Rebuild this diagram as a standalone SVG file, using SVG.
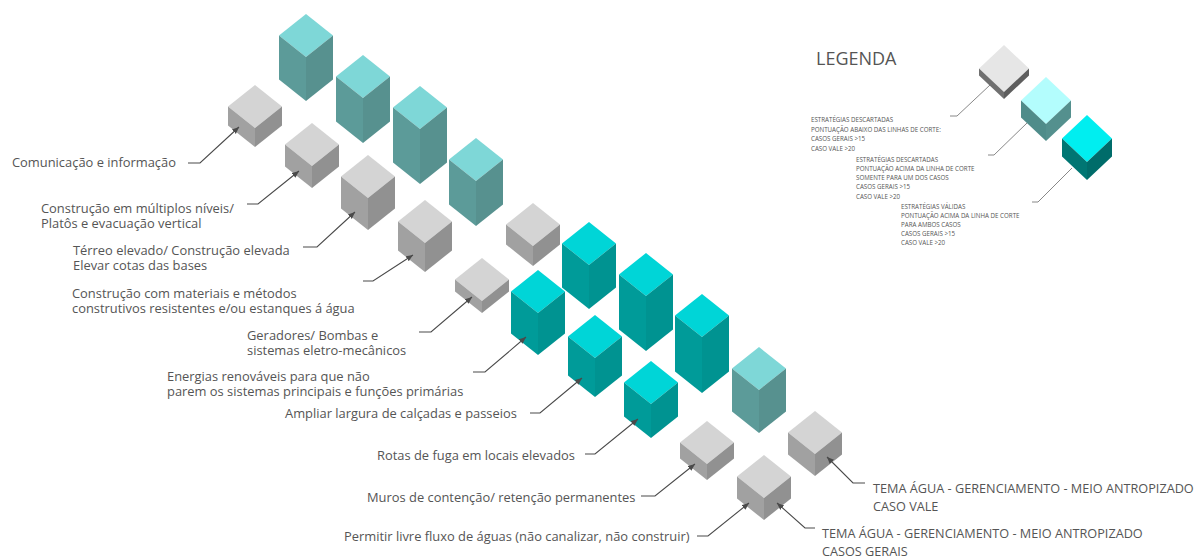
<svg xmlns="http://www.w3.org/2000/svg" width="1203" height="559" viewBox="0 0 1203 559">
  <defs>
    <style>
      .lbl { font-family: "Open Sans", "Liberation Sans", sans-serif; font-size: 12.9px; fill: #555555; }
      .cap { font-family: "Open Sans", "Liberation Sans", sans-serif; font-size: 12.7px; fill: #555555; }
      .leg { font-family: "Open Sans", "Liberation Sans", sans-serif; font-size: 6.2px; fill: #555555; }
      .title { font-family: "Open Sans", "Liberation Sans", sans-serif; font-size: 18px; fill: #555555; }
      .conn { fill: none; stroke: #4a4a4a; stroke-width: 1.1; marker-end: url(#arrow); }
      .lconn { fill: none; stroke: #6a6a6a; stroke-width: 0.8; }
      /* muted teal */
      .mt .t { fill: #7ed7d7; } .mt .l { fill: #5c9b99; } .mt .r { fill: #57918f; }
      /* bright teal */
      .bt .t { fill: #00d5d7; } .bt .l { fill: #009b99; } .bt .r { fill: #009391; }
      /* grey */
      .gr .t { fill: #d4d4d4; } .gr .l { fill: #a1a1a1; } .gr .r { fill: #919191; }
      /* legend cubes */
      .lg1 .t { fill: #e6e6e6; } .lg1 .l { fill: #707070; } .lg1 .r { fill: #5e5e5e; }
      .lg2 .t { fill: #b3fdfd; } .lg2 .l { fill: #4f8c8a; } .lg2 .r { fill: #54908e; }
      .lg3 .t { fill: #00eef0; } .lg3 .l { fill: #007673; } .lg3 .r { fill: #006c6a; }
    </style>
    <marker id="arrow" markerUnits="userSpaceOnUse" markerWidth="8" markerHeight="8" refX="7" refY="3" orient="auto">
      <path d="M0,0 L7,3 L0,6 Z" fill="#4a4a4a"/>
    </marker>
  </defs>

  <!-- upper row: caso vale -->
  <g id="u1" class="mt">
    <polygon class="t" points="306,14 333,35.5 306,57 279,35.5"/>
    <polygon class="l" points="279,35.5 306,57 306,101 279,79.5"/>
    <polygon class="r" points="306,57 333,35.5 333,79.5 306,101"/>
  </g>
  <g id="u2" class="mt">
    <polygon class="t" points="363,55 390,76.5 363,98 336,76.5"/>
    <polygon class="l" points="336,76.5 363,98 363,143 336,121.5"/>
    <polygon class="r" points="363,98 390,76.5 390,121.5 363,143"/>
  </g>
  <g id="u3" class="mt">
    <polygon class="t" points="420,86 447,107.5 420,129 393,107.5"/>
    <polygon class="l" points="393,107.5 420,129 420,184 393,162.5"/>
    <polygon class="r" points="420,129 447,107.5 447,162.5 420,184"/>
  </g>
  <g id="u4" class="mt">
    <polygon class="t" points="476,138 503,159.5 476,181 449,159.5"/>
    <polygon class="l" points="449,159.5 476,181 476,226 449,204.5"/>
    <polygon class="r" points="476,181 503,159.5 503,204.5 476,226"/>
  </g>
  <g id="u5" class="gr">
    <polygon class="t" points="533,203 560,224.5 533,246 506,224.5"/>
    <polygon class="l" points="506,224.5 533,246 533,266 506,244.5"/>
    <polygon class="r" points="533,246 560,224.5 560,244.5 533,266"/>
  </g>
  <g id="u6" class="bt">
    <polygon class="t" points="589,222 616,243.5 589,265 562,243.5"/>
    <polygon class="l" points="562,243.5 589,265 589,309 562,287.5"/>
    <polygon class="r" points="589,265 616,243.5 616,287.5 589,309"/>
  </g>
  <g id="u7" class="bt">
    <polygon class="t" points="646,253 673,274.5 646,296 619,274.5"/>
    <polygon class="l" points="619,274.5 646,296 646,351 619,329.5"/>
    <polygon class="r" points="646,296 673,274.5 673,329.5 646,351"/>
  </g>
  <g id="u8" class="bt">
    <polygon class="t" points="702,294 729,315.5 702,337 675,315.5"/>
    <polygon class="l" points="675,315.5 702,337 702,393 675,371.5"/>
    <polygon class="r" points="702,337 729,315.5 729,371.5 702,393"/>
  </g>
  <g id="u9" class="mt">
    <polygon class="t" points="759,347 786,368.5 759,390 732,368.5"/>
    <polygon class="l" points="732,368.5 759,390 759,433 732,411.5"/>
    <polygon class="r" points="759,390 786,368.5 786,411.5 759,433"/>
  </g>
  <g id="u10" class="gr">
    <polygon class="t" points="815,411 842,432.5 815,454 788,432.5"/>
    <polygon class="l" points="788,432.5 815,454 815,476 788,454.5"/>
    <polygon class="r" points="815,454 842,432.5 842,454.5 815,476"/>
  </g>

  <!-- lower row: casos gerais -->
  <g id="l1" class="gr">
    <polygon class="t" points="255,85 282,106.5 255,128 228,106.5"/>
    <polygon class="l" points="228,106.5 255,128 255,147 228,125.5"/>
    <polygon class="r" points="255,128 282,106.5 282,125.5 255,147"/>
  </g>
  <g id="l2" class="gr">
    <polygon class="t" points="312,123 339,144.5 312,166 285,144.5"/>
    <polygon class="l" points="285,144.5 312,166 312,188 285,166.5"/>
    <polygon class="r" points="312,166 339,144.5 339,166.5 312,188"/>
  </g>
  <g id="l3" class="gr">
    <polygon class="t" points="368,155 395,176.5 368,198 341,176.5"/>
    <polygon class="l" points="341,176.5 368,198 368,230 341,208.5"/>
    <polygon class="r" points="368,198 395,176.5 395,208.5 368,230"/>
  </g>
  <g id="l4" class="gr">
    <polygon class="t" points="425,200 452,221.5 425,243 398,221.5"/>
    <polygon class="l" points="398,221.5 425,243 425,272 398,250.5"/>
    <polygon class="r" points="425,243 452,221.5 452,250.5 425,272"/>
  </g>
  <g id="l5" class="gr">
    <polygon class="t" points="482,258 509,279.5 482,301 455,279.5"/>
    <polygon class="l" points="455,279.5 482,301 482,313 455,291.5"/>
    <polygon class="r" points="482,301 509,279.5 509,291.5 482,313"/>
  </g>
  <g id="l6" class="bt">
    <polygon class="t" points="538,270 565,291.5 538,313 511,291.5"/>
    <polygon class="l" points="511,291.5 538,313 538,355 511,333.5"/>
    <polygon class="r" points="538,313 565,291.5 565,333.5 538,355"/>
  </g>
  <g id="l7" class="bt">
    <polygon class="t" points="595,315 622,336.5 595,358 568,336.5"/>
    <polygon class="l" points="568,336.5 595,358 595,397 568,375.5"/>
    <polygon class="r" points="595,358 622,336.5 622,375.5 595,397"/>
  </g>
  <g id="l8" class="bt">
    <polygon class="t" points="651,361 678,382.5 651,404 624,382.5"/>
    <polygon class="l" points="624,382.5 651,404 651,438 624,416.5"/>
    <polygon class="r" points="651,404 678,382.5 678,416.5 651,438"/>
  </g>
  <g id="l9" class="gr">
    <polygon class="t" points="707,421 734,442.5 707,464 680,442.5"/>
    <polygon class="l" points="680,442.5 707,464 707,480 680,458.5"/>
    <polygon class="r" points="707,464 734,442.5 734,458.5 707,480"/>
  </g>
  <g id="l10" class="gr">
    <polygon class="t" points="764,455 791,476.5 764,498 737,476.5"/>
    <polygon class="l" points="737,476.5 764,498 764,520 737,498.5"/>
    <polygon class="r" points="764,498 791,476.5 791,498.5 764,520"/>
  </g>

  <!-- legend cubes -->
  <g id="leg-descartada" class="lg1">
    <polygon class="t" points="1004,45 1029,68.5 1004,92 979,68.5"/>
    <polygon class="l" points="979,68.5 1004,92 1004,99 979,75.5"/>
    <polygon class="r" points="1004,92 1029,68.5 1029,75.5 1004,99"/>
  </g>
  <g id="leg-um-caso" class="lg2">
    <polygon class="t" points="1046,77 1071,100.5 1046,124 1021,100.5"/>
    <polygon class="l" points="1021,100.5 1046,124 1046,141 1021,117.5"/>
    <polygon class="r" points="1046,124 1071,100.5 1071,117.5 1046,141"/>
  </g>
  <g id="leg-valida" class="lg3">
    <polygon class="t" points="1087,115 1112,138.5 1087,162 1062,138.5"/>
    <polygon class="l" points="1062,138.5 1087,162 1087,180 1062,156.5"/>
    <polygon class="r" points="1087,162 1112,138.5 1112,156.5 1087,180"/>
  </g>

  <!-- connectors -->
  <g id="connectors">
    <polyline class="conn" points="188,163 200,163 239,127"/>
    <polyline class="conn" points="247,204 258,204 299,171"/>
    <polyline class="conn" points="303,247 317,247 355,212"/>
    <polyline class="conn" points="363,281 373,281 413,255"/>
    <polyline class="conn" points="419,332 431,332 472,297"/>
    <polyline class="conn" points="473,372 485,372 526,337"/>
    <polyline class="conn" points="530,413 540,413 582,378"/>
    <polyline class="conn" points="585,454 595,454 638,419"/>
    <polyline class="conn" points="641,496 655,496 695,464"/>
    <polyline class="conn" points="697,536 708,536 749,503"/>
    <polyline class="conn" points="815,528 805,528 777,503"/>
    <polyline class="conn" points="865,483 853,483 827,457"/>
    <polyline class="lconn" points="950,116 957,116 990,85"/>
    <polyline class="lconn" points="988,155 994,155 1027,123"/>
    <polyline class="lconn" points="1032,202 1038,202 1072,168"/>
  </g>

  <!-- strategy labels -->
  <g id="labels">
    <text class="lbl" x="12" y="167">Comunicação e informação</text>
    <text class="lbl" x="41" y="212.5">Construção em múltiplos níveis/<tspan x="41" dy="15.5">Platôs e evacuação vertical</tspan></text>
    <text class="lbl" x="73" y="254.5">Térreo elevado/ Construção elevada<tspan x="73" dy="15.5">Elevar cotas das bases</tspan></text>
    <text class="lbl" x="72" y="297.5">Construção com materiais e métodos<tspan x="72" dy="15.5">construtivos resistentes e/ou estanques á água</tspan></text>
    <text class="lbl" x="247" y="339.5">Geradores/ Bombas e<tspan x="247" dy="15.5">sistemas eletro-mecânicos</tspan></text>
    <text class="lbl" x="167" y="380.5">Energias renováveis para que não<tspan x="167" dy="15.5">parem os sistemas principais e funções primárias</tspan></text>
    <text class="lbl" x="285" y="418">Ampliar largura de calçadas e passeios</text>
    <text class="lbl" x="377" y="460">Rotas de fuga em locais elevados</text>
    <text class="lbl" x="367" y="502">Muros de contenção/ retenção permanentes</text>
    <text class="lbl" x="344" y="541">Permitir livre fluxo de águas (não canalizar, não construir)</text>
  </g>

  <!-- row captions -->
  <g id="captions">
    <text class="cap" x="873" y="493">TEMA ÁGUA - GERENCIAMENTO - MEIO ANTROPIZADO<tspan x="873" dy="18">CASO VALE</tspan></text>
    <text class="cap" x="822" y="538">TEMA ÁGUA - GERENCIAMENTO - MEIO ANTROPIZADO<tspan x="822" dy="18">CASOS GERAIS</tspan></text>
  </g>

  <!-- legend -->
  <g id="legend">
    <text class="title" x="816" y="65">LEGENDA</text>
    <text class="leg" x="811" y="122">ESTRATÉGIAS DESCARTADAS<tspan x="811" dy="9.5">PONTUAÇÃO ABAIXO DAS LINHAS DE CORTE:</tspan><tspan x="811" dy="9.5">CASOS GERAIS &gt;15</tspan><tspan x="811" dy="9.5">CASO VALE &gt;20</tspan></text>
    <text class="leg" x="856" y="161.5">ESTRATÉGIAS DESCARTADAS<tspan x="856" dy="9.3">PONTUAÇÃO ACIMA DA LINHA DE CORTE</tspan><tspan x="856" dy="9.3">SOMENTE PARA UM DOS CASOS</tspan><tspan x="856" dy="9.3">CASOS GERAIS &gt;15</tspan><tspan x="856" dy="9.3">CASO VALE &gt;20</tspan></text>
    <text class="leg" x="901" y="208.5">ESTRATÉGIAS VÁLIDAS<tspan x="901" dy="9">PONTUAÇÃO ACIMA DA LINHA DE CORTE</tspan><tspan x="901" dy="9">PARA AMBOS CASOS</tspan><tspan x="901" dy="9">CASOS GERAIS &gt;15</tspan><tspan x="901" dy="9">CASO VALE &gt;20</tspan></text>
  </g>
</svg>
